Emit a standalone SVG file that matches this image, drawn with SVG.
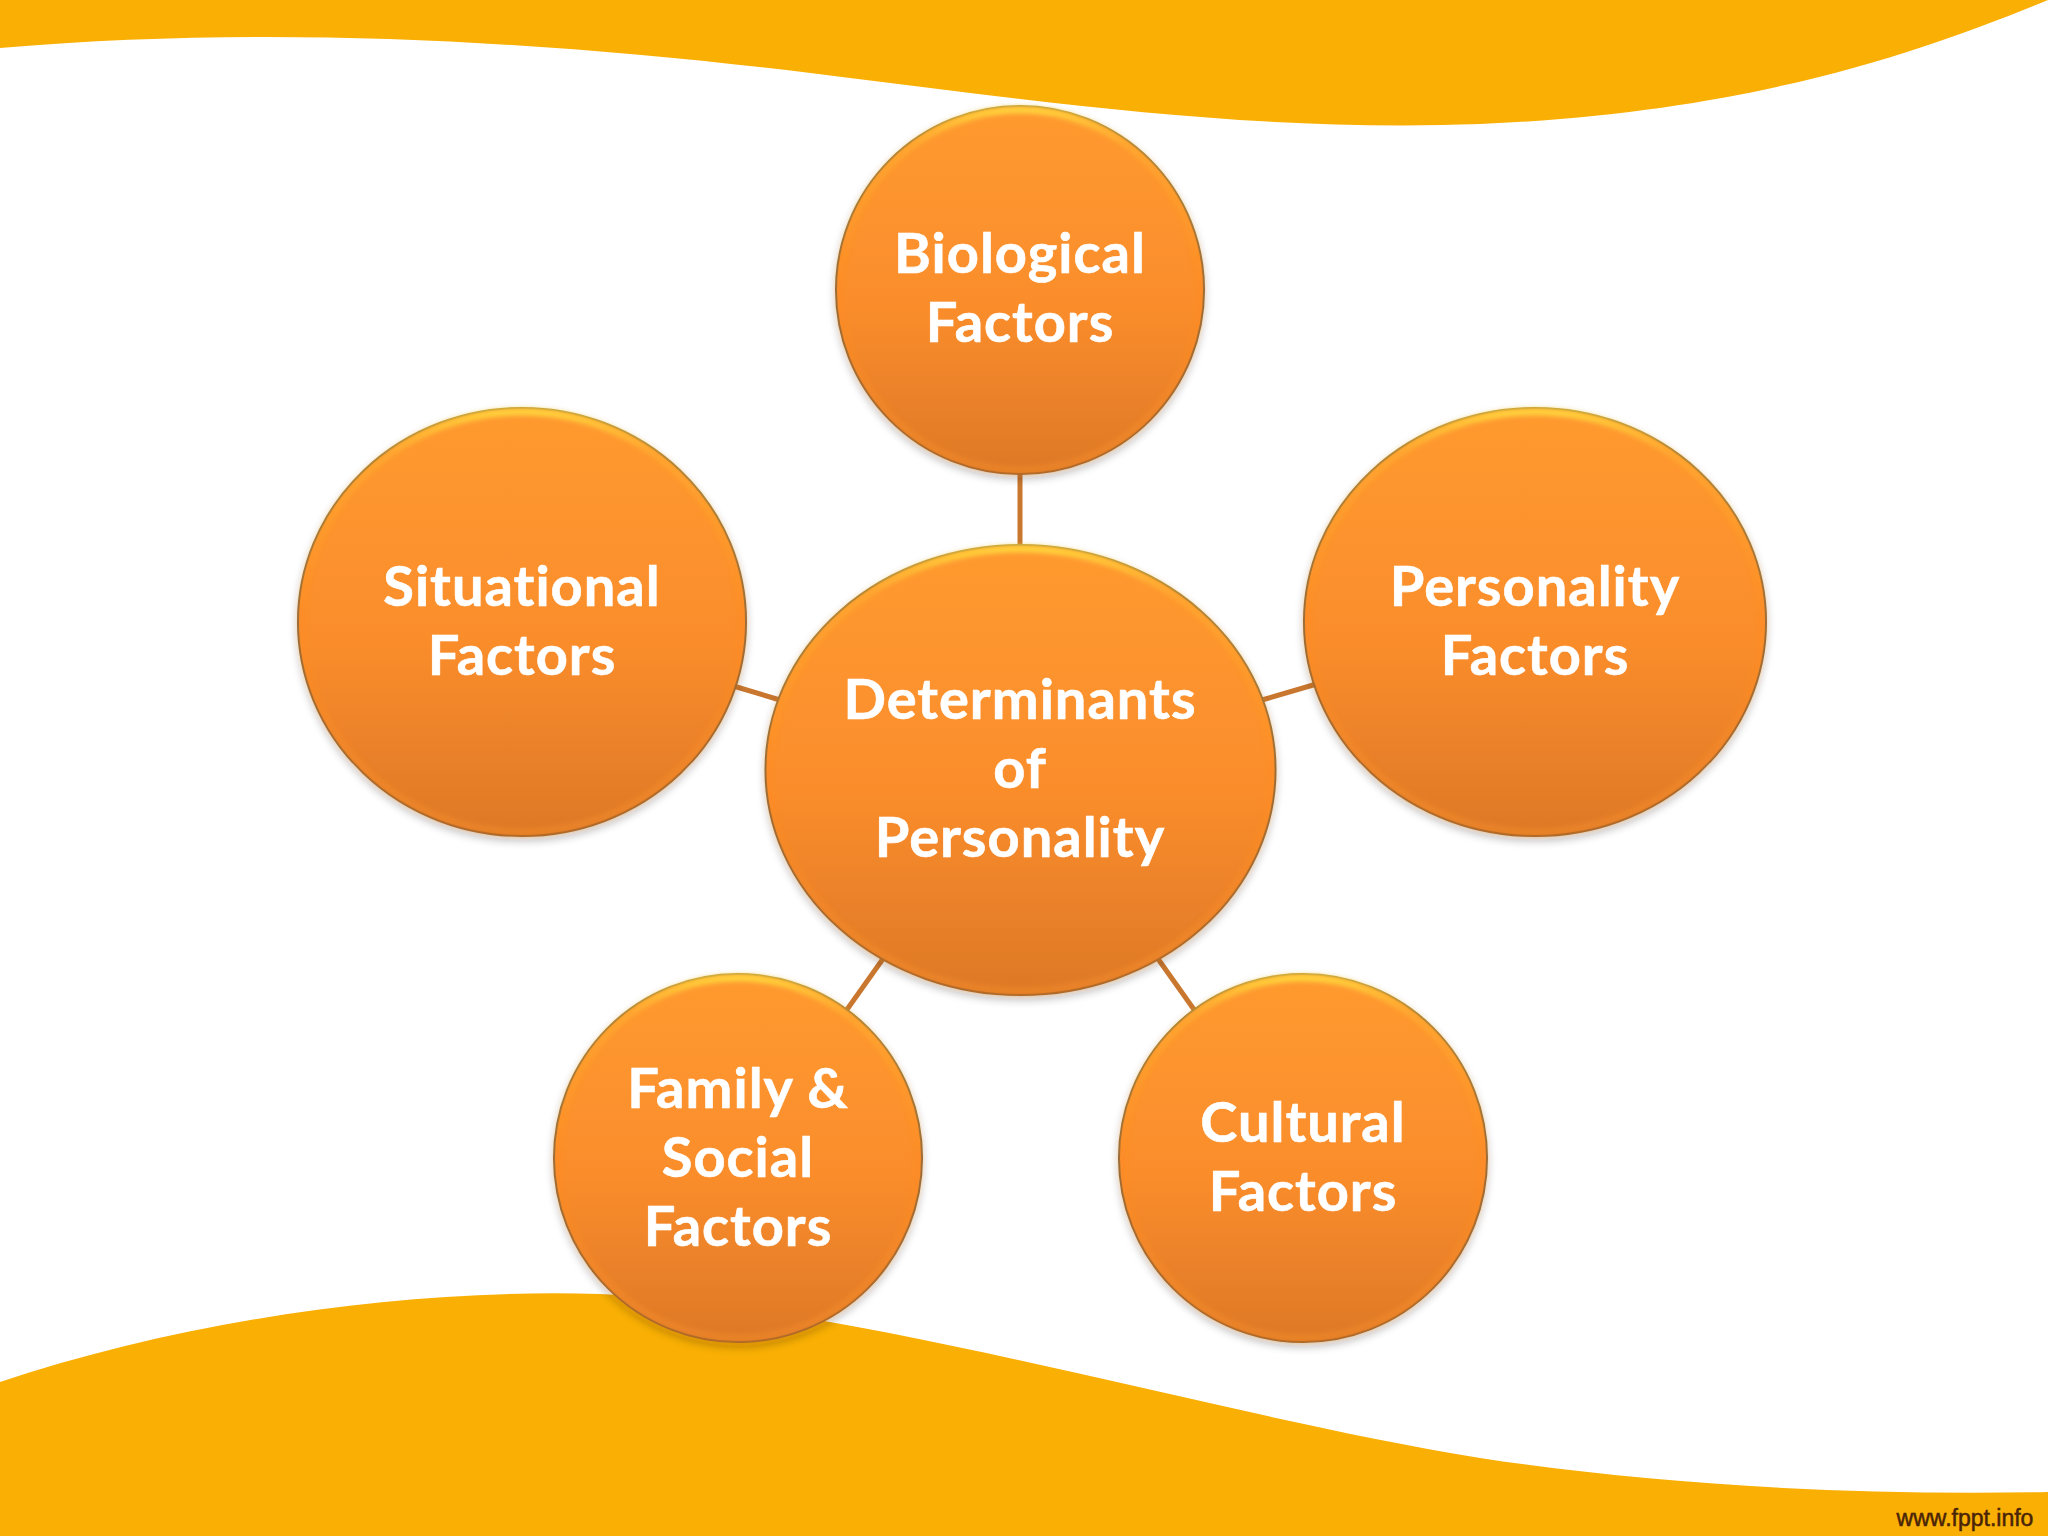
<svg xmlns="http://www.w3.org/2000/svg" width="2048" height="1536" viewBox="0 0 2048 1536">
<defs>
<linearGradient id="fill" x1="0" y1="0" x2="0" y2="1"><stop offset="0" stop-color="#FF9A2F"/><stop offset="0.55" stop-color="#FA8D2C"/><stop offset="1" stop-color="#DE7827"/></linearGradient>
<linearGradient id="edge" x1="0" y1="0" x2="0" y2="1"><stop offset="0" stop-color="#B89338"/><stop offset="0.12" stop-color="#A07A34"/><stop offset="0.5" stop-color="#85643A"/><stop offset="1" stop-color="#A06026"/></linearGradient>
<linearGradient id="bevel" x1="0" y1="0" x2="0" y2="1"><stop offset="0" stop-color="#FFD23C"/><stop offset="0.1" stop-color="#FFB030" stop-opacity="0.6"/><stop offset="0.5" stop-color="#FF8A20" stop-opacity="0.5"/><stop offset="1" stop-color="#F08A2A" stop-opacity="0.6"/></linearGradient>
<filter id="shadow" x="-10%" y="-10%" width="120%" height="125%"><feGaussianBlur in="SourceAlpha" stdDeviation="4"/><feOffset dy="4"/><feComponentTransfer><feFuncA type="linear" slope="0.25"/></feComponentTransfer><feMerge><feMergeNode/><feMergeNode in="SourceGraphic"/></feMerge></filter>
<filter id="soft" x="-5%" y="-5%" width="110%" height="110%"><feGaussianBlur stdDeviation="2"/></filter>
</defs>
<style>
.band{fill:#F9AF03}
.disc{fill:url(#fill);stroke:url(#edge);stroke-width:2}
.rim{fill:none;stroke:url(#bevel);stroke-width:7;filter:url(#soft)}
.link{stroke:#C9772E;stroke-width:5;fill:none}
.label{font-family:"Lato","Liberation Sans",sans-serif;font-weight:700;font-size:56px;letter-spacing:1px;fill:#fff;stroke:#fff;stroke-width:0.6;text-anchor:middle}
.url{font-family:"Liberation Sans",Arial,sans-serif;font-size:23px;fill:#4A2408;stroke:#4A2408;stroke-width:0.5;text-anchor:middle}
</style>
<rect width="2048" height="1536" fill="#fff"/>
<g id="background">
<path class="band" d="M0 0H2048V0C1930 48 1760 112 1480 124C1260 132 1060 104 850 78C600 46 300 22 0 48Z"/>
<path class="band" d="M0 1382C180 1322 400 1288 600 1294C860 1306 1200 1412 1480 1458C1650 1484 1850 1496 2048 1492V1536H0Z"/>
<text class="url" x="1965" y="1526">www.fppt.info</text>
</g>
<g id="connectors">
<line class="link" x1="1020" y1="470" x2="1020" y2="550"/>
<line class="link" x1="1262" y1="700" x2="1320" y2="683"/>
<line class="link" x1="780" y1="700" x2="730" y2="685"/>
<line class="link" x1="1156" y1="956" x2="1200" y2="1018"/>
<line class="link" x1="885" y1="956" x2="841" y2="1018"/>
</g>
<g id="node-biological" filter="url(#shadow)">
<circle class="disc" cx="1020" cy="290" r="184"/><circle class="rim" cx="1020" cy="290" r="180"/>
<text class="label"><tspan x="1020" y="273">Biological</tspan><tspan x="1020" y="342">Factors</tspan></text>
</g>
<g id="node-situational" filter="url(#shadow)">
<ellipse class="disc" cx="522" cy="622" rx="224" ry="214"/><ellipse class="rim" cx="522" cy="622" rx="220" ry="210"/>
<text class="label"><tspan x="522" y="606">Situational</tspan><tspan x="522" y="675">Factors</tspan></text>
</g>
<g id="node-personality" filter="url(#shadow)">
<ellipse class="disc" cx="1535" cy="622" rx="231" ry="214"/><ellipse class="rim" cx="1535" cy="622" rx="227" ry="210"/>
<text class="label"><tspan x="1535" y="606">Personality</tspan><tspan x="1535" y="675">Factors</tspan></text>
</g>
<g id="node-center" filter="url(#shadow)">
<ellipse class="disc" cx="1020.500" cy="770" rx="255" ry="225"/><ellipse class="rim" cx="1020.500" cy="770" rx="251" ry="221"/>
<text class="label"><tspan x="1020" y="719">Determinants</tspan><tspan x="1020" y="788">of</tspan><tspan x="1020" y="857">Personality</tspan></text>
</g>
<g id="node-family" filter="url(#shadow)">
<circle class="disc" cx="738" cy="1158" r="184"/><circle class="rim" cx="738" cy="1158" r="180"/>
<text class="label"><tspan x="738" y="1108">Family &amp;</tspan><tspan x="738" y="1177">Social</tspan><tspan x="738" y="1246">Factors</tspan></text>
</g>
<g id="node-cultural" filter="url(#shadow)">
<circle class="disc" cx="1303" cy="1158" r="184"/><circle class="rim" cx="1303" cy="1158" r="180"/>
<text class="label"><tspan x="1303" y="1142">Cultural</tspan><tspan x="1303" y="1211">Factors</tspan></text>
</g>
</svg>
